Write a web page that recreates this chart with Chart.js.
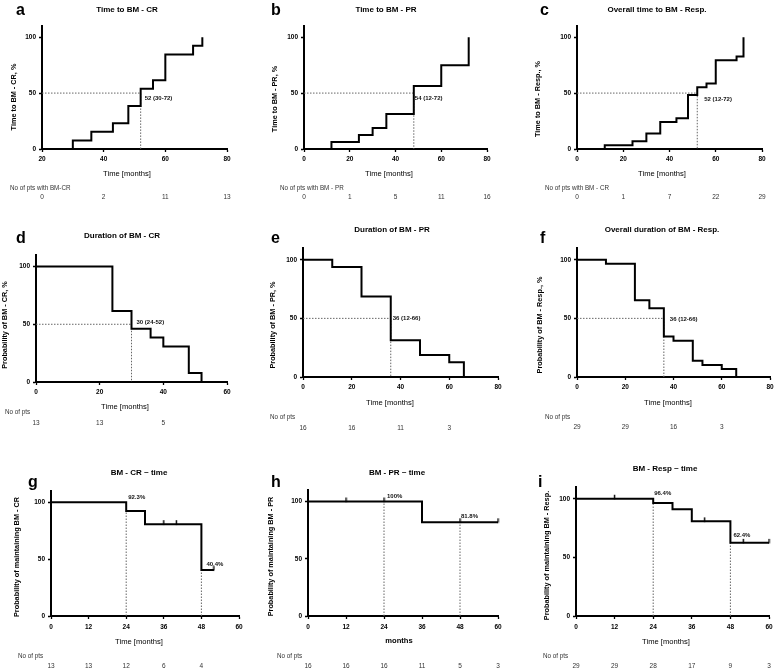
<!DOCTYPE html>
<html><head><meta charset="utf-8">
<script src="https://cdn.jsdelivr.net/npm/chart.js@4.4.1/dist/chart.umd.min.js"></script>
<style>
html,body{margin:0;padding:0;background:#fff;}
body{width:775px;height:671px;position:relative;overflow:hidden;}
canvas{position:absolute;}
</style></head><body>
<script>
// ---------- data ----------
const yTickValues = [0, 50, 100];
const xTicksA = [20, 40, 60, 80];
const xTicks80 = [0, 20, 40, 60, 80];
const xTicks60 = [0, 20, 40, 60];
const xTicksMonths = [0, 12, 24, 36, 48, 60];

// a: Time to BM - CR
const aTimes = [20, 30, 36, 43, 48, 52, 56, 60, 69, 72];
const aValues = [0, 7.7, 15.4, 23.1, 38.5, 53.8, 61.5, 84.6, 92.3, 100];
const aMedian = 52, aMedianLabel = '52 (30-72)';
const aRiskTimes = [20, 40, 60, 80], aRiskCounts = [0, 2, 11, 13];

// b: Time to BM - PR
const bTimes = [0, 12, 24, 30, 36, 48, 60, 72];
const bValues = [0, 6.25, 12.5, 18.75, 31.25, 56.25, 75, 100];
const bMedian = 48, bMedianLabel = '54 (12-72)';
const bRiskTimes = [0, 20, 40, 60, 80], bRiskCounts = [0, 1, 5, 11, 16];

// c: Overall time to BM - Resp.
const cTimes = [0, 12, 24, 30, 36, 43, 48, 52, 56, 60, 69, 72];
const cValues = [0, 3.4, 6.9, 13.8, 24.1, 27.6, 48.3, 55.2, 58.6, 79.3, 82.8, 100];
const cMedian = 52, cMedianLabel = '52 (12-72)';
const cRiskTimes = [0, 20, 40, 60, 80], cRiskCounts = [0, 1, 7, 22, 29];

// d: Duration of BM - CR
const dTimes = [0, 24, 30, 36, 40, 48, 52];
const dValues = [100, 61.5, 46.2, 38.5, 30.8, 7.7, 0];
const dMedian = 30, dMedianLabel = '30 (24-52)';
const dRiskTimes = [0, 20, 40], dRiskCounts = [13, 13, 5];

// e: Duration of BM - PR
const eTimes = [0, 12, 24, 36, 48, 60, 66];
const eValues = [100, 93.75, 68.75, 31.25, 18.75, 12.5, 0];
const eMedian = 36, eMedianLabel = '36 (12-66)';
const eRiskTimes = [0, 20, 40, 60], eRiskCounts = [16, 16, 11, 3];

// f: Overall duration of BM - Resp.
const fTimes = [0, 12, 24, 30, 36, 40, 48, 52, 60, 66];
const fValues = [100, 96.6, 65.5, 58.6, 34.5, 31.0, 13.8, 10.3, 6.9, 0];
const fMedian = 36, fMedianLabel = '36 (12-66)';
const fRiskTimes = [0, 20, 40, 60], fRiskCounts = [29, 29, 16, 3];

// g: BM - CR ~ time
const gTimes = [0, 24, 30, 48, 52];
const gValues = [100, 92.3, 80.8, 40.4, 40.4];
const gCensorTimes = [36, 40, 52], gCensorValues = [80.8, 80.8, 40.4];
const gMarkTimes = [24, 48], gMarkValues = [92.3, 40.4];
const gMarkLabels = ['92.3%', '40.4%'], gLabelLevels = [100, 40.4];
const gRiskTimes = [0, 12, 24, 36, 48], gRiskCounts = [13, 13, 12, 6, 4];

// h: BM - PR ~ time
const hTimes = [0, 36, 60];
const hValues = [100, 81.8, 81.8];
const hCensorTimes = [12, 24, 48, 60], hCensorValues = [100, 100, 81.8, 81.8];
const hMarkTimes = [24, 48], hMarkValues = [100, 81.8];
const hMarkLabels = ['100%', '81.8%'], hLabelLevels = [100, 81.8];
const hRiskTimes = [0, 12, 24, 36, 48, 60], hRiskCounts = [16, 16, 16, 11, 5, 3];

// i: BM - Resp ~ time
const iTimes = [0, 24, 30, 36, 48, 60];
const iValues = [100, 96.4, 91.0, 80.7, 62.4, 62.4];
const iCensorTimes = [12, 40, 52, 60], iCensorValues = [100, 80.7, 62.4, 62.4];
const iMarkTimes = [24, 48], iMarkValues = [96.4, 62.4];
const iMarkLabels = ['96.4%', '62.4%'], iLabelLevels = [100, 62.4];
const iRiskTimes = [0, 12, 24, 36, 48, 60], iRiskCounts = [29, 29, 28, 17, 9, 3];

// ---------- layout / drawing ----------
const FF = '"Liberation Sans", Arial, Helvetica, sans-serif';
const XH = 14;

// censor tick glyph: short vertical stroke above the curve
const censorGlyph = (() => {
  const g = document.createElement('canvas');
  g.width = 3; g.height = 10;
  const x = g.getContext('2d');
  x.fillStyle = '#000';
  x.fillRect(0.8, 1, 1.4, 4.5);
  return g;
})();

function medianLines(xmin, m) { return [[[xmin, 50], [m, 50], [m, 0]]]; }
function markLines(ts, vs) { return ts.map((t, i) => [[t, 0], [t, vs[i]]]); }

const panels = [
  { box:[0,0,255,205], area:[42,26,227,149], x:[20,80], xTicks:xTicksA, times:aTimes, values:aValues,
    dotted: medianLines(20, aMedian), notes:[{t:aMedianLabel, x:aMedian, y:50, dx:4, dy:5}],
    letter:['a',16,15], title:['Time to BM - CR',127,9.5], yTitle:['Time to BM - CR, %',14,97],
    xTitle:['Time [months]',127,174,false], risk:{label:'No of pts with BM-CR', x:10, y:188, ny:197, t:aRiskTimes, n:aRiskCounts}, xPad:3 },
  { box:[255,0,255,205], area:[304,26,487,149], x:[0,80], xTicks:xTicks80, times:bTimes, values:bValues,
    dotted: medianLines(0, bMedian), notes:[{t:bMedianLabel, x:bMedian, y:50, dx:1, dy:5}],
    letter:['b',271,15], title:['Time to BM - PR',386,9.5], yTitle:['Time to BM - PR, %',275,99],
    xTitle:['Time [months]',389,174,false], risk:{label:'No of pts with BM - PR', x:280, y:188, ny:197, t:bRiskTimes, n:bRiskCounts}, xPad:3 },
  { box:[510,0,265,205], area:[577,26,762,149], x:[0,80], xTicks:xTicks80, times:cTimes, values:cValues,
    dotted: medianLines(0, cMedian), notes:[{t:cMedianLabel, x:cMedian, y:50, dx:7, dy:6}],
    letter:['c',540,15], title:['Overall time to BM - Resp.',657,9.5], yTitle:['Time to BM - Resp., %',538,99],
    xTitle:['Time [months]',662,174,false], risk:{label:'No of pts with BM - CR', x:545, y:188, ny:197, t:cRiskTimes, n:cRiskCounts}, xPad:3 },
  { box:[0,205,255,233], area:[36,255,227,382], x:[0,60], xTicks:xTicks60, times:dTimes, values:dValues,
    dotted: medianLines(0, dMedian), notes:[{t:dMedianLabel, x:dMedian, y:50, dx:5, dy:-2}],
    letter:['d',16,243], title:['Duration of BM - CR',122,236], yTitle:['Probability of BM - CR, %',5,325],
    xTitle:['Time [months]',125,406.5,false], risk:{label:'No of pts', x:5, y:412, ny:423, t:dRiskTimes, n:dRiskCounts}, xPad:3 },
  { box:[255,205,255,233], area:[303,248,498,377], x:[0,80], xTicks:xTicks80, times:eTimes, values:eValues,
    dotted: medianLines(0, eMedian), notes:[{t:eMedianLabel, x:eMedian, y:50, dx:2, dy:0}],
    letter:['e',271,243], title:['Duration of BM - PR',392,230], yTitle:['Probability of BM - PR, %',273,325],
    xTitle:['Time [months]',390,402.5,false], risk:{label:'No of pts', x:270, y:417, ny:428, t:eRiskTimes, n:eRiskCounts}, xPad:3 },
  { box:[510,205,265,233], area:[577,248,770,377], x:[0,80], xTicks:xTicks80, times:fTimes, values:fValues,
    dotted: medianLines(0, fMedian), notes:[{t:fMedianLabel, x:fMedian, y:50, dx:6, dy:1}],
    letter:['f',540,243], title:['Overall duration of BM - Resp.',662,230], yTitle:['Probability of BM - Resp., %',540,325],
    xTitle:['Time [months]',668,402.5,false], risk:{label:'No of pts', x:545, y:417, ny:427, t:fRiskTimes, n:fRiskCounts}, xPad:3 },
  { box:[0,438,255,233], area:[51,491,239,616], x:[0,60], xTicks:xTicksMonths, times:gTimes, values:gValues,
    censorT:gCensorTimes, censorV:gCensorValues, dotted: markLines(gMarkTimes, gMarkValues),
    notes: gMarkLabels.map((t,i)=>({t, x:gMarkTimes[i], y:gLabelLevels[i], dx:[2,5][i], dy:[-5,-6][i]})),
    letter:['g',28,487], title:['BM - CR ~ time',139,472.5], yTitle:['Probability of maintaining BM - CR',17,557],
    xTitle:['Time [months]',139,641.5,false], risk:{label:'No of pts', x:18, y:656, ny:666, t:gRiskTimes, n:gRiskCounts}, xPad:4 },
  { box:[255,438,255,233], area:[308,490,498,616], x:[0,60], xTicks:xTicksMonths, times:hTimes, values:hValues,
    censorT:hCensorTimes, censorV:hCensorValues, dotted: markLines(hMarkTimes, hMarkValues),
    notes: hMarkLabels.map((t,i)=>({t, x:hMarkTimes[i], y:hLabelLevels[i], dx:[3,1][i], dy:[-5,-6][i]})),
    letter:['h',271,486.5], title:['BM - PR ~ time',397,472.5], yTitle:['Probability of maintaining BM - PR',271,556.5],
    xTitle:['months',399,641,true], risk:{label:'No of pts', x:277, y:656, ny:666, t:hRiskTimes, n:hRiskCounts}, xPad:4 },
  { box:[510,438,265,233], area:[576,487,769,616], x:[0,60], xTicks:xTicksMonths, times:iTimes, values:iValues,
    censorT:iCensorTimes, censorV:iCensorValues, dotted: markLines(iMarkTimes, iMarkValues),
    notes: iMarkLabels.map((t,i)=>({t, x:iMarkTimes[i], y:iLabelLevels[i], dx:[1,3][i], dy:[-5,-7][i]})),
    letter:['i',538,486.5], title:['BM - Resp ~ time',665,468.5], yTitle:['Probability of maintaining BM - Resp.',547,555.5],
    xTitle:['Time [months]',666,641.5,false], risk:{label:'No of pts', x:543, y:656, ny:666, t:iRiskTimes, n:iRiskCounts}, xPad:4 }
];

function extras(p) {
  return {
    id: 'extras',
    afterDraw(chart) {
      const c = chart.ctx, ox = p.box[0], oy = p.box[1];
      const xs = chart.scales.x, ys = chart.scales.y;
      const txt = (s, x, y, font, align, color, base) => {
        c.font = font; c.fillStyle = color || '#000';
        c.textAlign = align || 'center'; c.textBaseline = base || 'middle';
        c.fillText(s, x, y);
      };
      c.save();
      txt(p.letter[0], p.letter[1] - ox, p.letter[2] - oy, 'bold 16px ' + FF, 'left', '#000', 'alphabetic');
      txt(p.title[0], p.title[1] - ox, p.title[2] - oy, 'bold 8px ' + FF);
      c.save();
      c.translate(p.yTitle[1] - ox, p.yTitle[2] - oy);
      c.rotate(-Math.PI / 2);
      txt(p.yTitle[0], 0, 0, 'bold 7.3px ' + FF);
      c.restore();
      txt(p.xTitle[0], p.xTitle[1] - ox, p.xTitle[2] - oy, (p.xTitle[3] ? 'bold ' : '') + '7.6px ' + FF);
      const r = p.risk;
      txt(r.label, r.x - ox, r.y - oy, '6.3px ' + FF, 'left', '#333');
      r.t.forEach((t, i) => txt(String(r.n[i]), xs.getPixelForValue(t), r.ny - oy, '6.5px ' + FF, 'center', '#333'));
      p.notes.forEach(n => txt(n.t, xs.getPixelForValue(n.x) + n.dx, ys.getPixelForValue(n.y) + n.dy, 'bold 6px ' + FF, 'left', '#111'));
      c.restore();
    }
  };
}

function build(p) {
  const cv = document.createElement('canvas');
  cv.width = p.box[2]; cv.height = p.box[3];
  cv.style.left = p.box[0] + 'px'; cv.style.top = p.box[1] + 'px';
  cv.style.width = p.box[2] + 'px'; cv.style.height = p.box[3] + 'px';
  document.body.appendChild(cv);
  const [L, T, R, B] = p.area;
  const datasets = [{
    data: p.times.map((t, i) => ({ x: t, y: p.values[i] })),
    stepped: true, borderColor: '#000', borderWidth: 2, pointRadius: 0, fill: false, order: 0
  }];
  if (p.censorT) {
    datasets.push({
      data: p.censorT.map((t, i) => ({ x: t, y: p.censorV[i] })),
      showLine: false, pointStyle: censorGlyph, pointRadius: 4, clip: false, order: 0
    });
  }
  p.dotted.forEach(d => datasets.push({
    data: d.map(([x, y]) => ({ x, y })),
    borderColor: '#666', borderWidth: 1, borderDash: [1.5, 1.5], pointRadius: 0, fill: false, order: 1
  }));
  const axisCommon = {
    type: 'linear',
    grid: { display: true, drawOnChartArea: false, drawTicks: true, tickLength: 3, tickColor: '#000', tickWidth: 1.3 },
    border: { display: true, color: '#000', width: 2 }
  };
  new Chart(cv, {
    type: 'line',
    data: { datasets },
    options: {
      responsive: false, animation: false, events: [], devicePixelRatio: 1,
      layout: { autoPadding: false, padding: { left: 0, top: T - p.box[1], right: p.box[0] + p.box[2] - R, bottom: p.box[1] + p.box[3] - B - XH } },
      plugins: { legend: { display: false }, tooltip: { enabled: false }, title: { display: false } },
      scales: {
        x: Object.assign({}, axisCommon, {
          min: p.x[0], max: p.x[1],
          afterBuildTicks: s => { s.ticks = p.xTicks.map(v => ({ value: v })); },
          afterFit: s => { s.height = XH; s.paddingLeft = 0; s.paddingRight = 0; },
          ticks: { font: { family: FF, size: 6.5, weight: 'bold' }, color: '#000', padding: p.xPad, maxRotation: 0, autoSkip: false }
        }),
        y: Object.assign({}, axisCommon, {
          min: 0, max: 110,
          afterBuildTicks: s => { s.ticks = yTickValues.map(v => ({ value: v })); },
          afterFit: s => { s.width = L - p.box[0]; s.paddingTop = 0; s.paddingBottom = 0; },
          ticks: { font: { family: FF, size: 6.5, weight: 'bold' }, color: '#000', padding: 3, autoSkip: false }
        })
      }
    },
    plugins: [extras(p)]
  });
}

panels.forEach(build);
</script>
</body></html>
